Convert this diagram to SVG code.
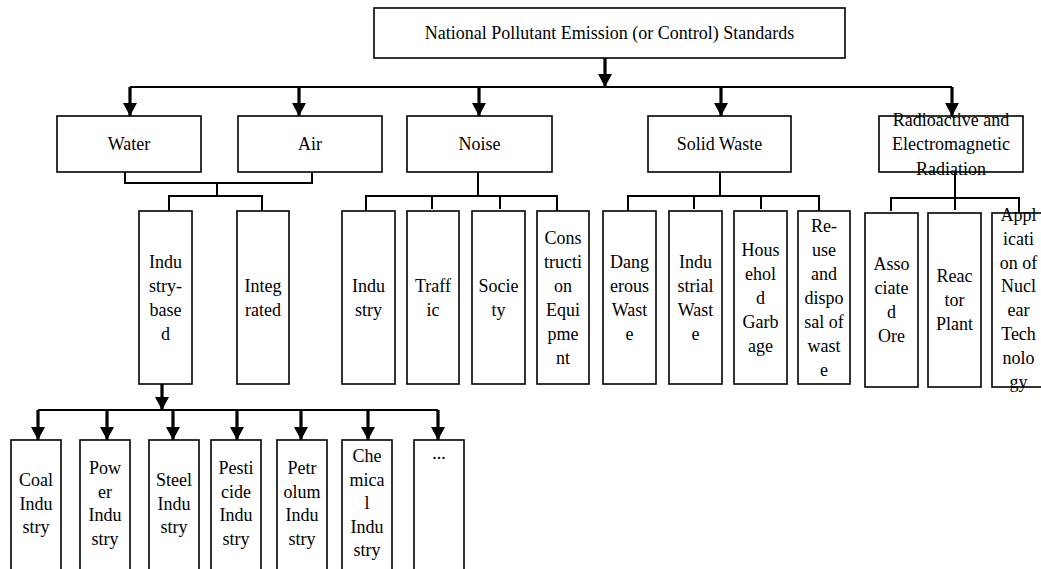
<svg xmlns="http://www.w3.org/2000/svg" width="1041" height="569" viewBox="0 0 1041 569">
<style>
.b{fill:#fff;stroke:#000;stroke-width:1.6}
.t{font-family:"Liberation Serif","Times New Roman",serif;font-size:18px;fill:#000;text-anchor:middle}
.c{fill:none;stroke:#000;stroke-width:2}
.a{fill:none;stroke:#000;stroke-width:3.2;marker-end:url(#ah)}
</style>
<defs>
<marker id="ah" markerUnits="userSpaceOnUse" markerWidth="14" markerHeight="14" refX="12" refY="6.5" orient="auto" viewBox="0 0 12 13">
<path d="M0,0 L12,6.5 L0,13 z" fill="#000"/>
</marker>
</defs>
<rect width="1041" height="569" fill="#fff"/>
<g id="connectors">
<line class="a" x1="605" y1="58" x2="605" y2="87"/>
<line class="c" x1="130" y1="87" x2="952" y2="87"/>
<line class="a" x1="130" y1="87" x2="130" y2="116"/>
<line class="a" x1="299" y1="87" x2="299" y2="116"/>
<line class="a" x1="479" y1="87" x2="479" y2="116"/>
<line class="a" x1="721" y1="87" x2="721" y2="116"/>
<line class="a" x1="952" y1="87" x2="952" y2="116"/>
<polyline class="c" points="125,172 125,183 312,183 312,172"/>
<line class="c" x1="217" y1="183" x2="217" y2="196"/>
<polyline class="c" points="169,211 169,196 262,196 262,211"/>
<line class="c" x1="478" y1="172" x2="478" y2="196"/>
<polyline class="c" points="366,211 366,196 557,196 557,211"/>
<line class="c" x1="432" y1="196" x2="432" y2="209"/>
<line class="c" x1="500" y1="196" x2="500" y2="209"/>
<line class="c" x1="720" y1="172" x2="720" y2="196"/>
<polyline class="c" points="628,211 628,196 819,196 819,211"/>
<line class="c" x1="694" y1="196" x2="694" y2="209"/>
<line class="c" x1="761" y1="196" x2="761" y2="209"/>
<line class="c" x1="955" y1="160" x2="955" y2="198"/>
<polyline class="c" points="891,211 891,198 1019,198 1019,213"/>
<line class="c" x1="955" y1="198" x2="955" y2="210"/>
<line class="a" x1="162" y1="384" x2="162" y2="410"/>
<line class="c" x1="38" y1="410" x2="438" y2="410"/>
<line class="a" x1="38" y1="410" x2="38" y2="440"/>
<line class="a" x1="107" y1="410" x2="107" y2="440"/>
<line class="a" x1="173" y1="410" x2="173" y2="440"/>
<line class="a" x1="237" y1="410" x2="237" y2="440"/>
<line class="a" x1="301" y1="410" x2="301" y2="440"/>
<line class="a" x1="368" y1="410" x2="368" y2="440"/>
<line class="a" x1="438" y1="410" x2="438" y2="440"/>
</g>
<g id="root"><rect class="b" x="374" y="8" width="471" height="50"/><text class="t" x="609.5" y="39">National Pollutant Emission (or Control) Standards</text></g>
<g id="water"><rect class="b" x="57" y="116" width="144" height="56"/><text class="t" x="129" y="150">Water</text></g>
<g id="air"><rect class="b" x="238" y="116" width="144" height="56"/><text class="t" x="310" y="150">Air</text></g>
<g id="noise"><rect class="b" x="407" y="116" width="145" height="56"/><text class="t" x="479.5" y="150">Noise</text></g>
<g id="solid"><rect class="b" x="648" y="116" width="143" height="56"/><text class="t" x="719.5" y="150">Solid Waste</text></g>
<g id="radio"><rect class="b" x="879" y="116" width="144" height="56"/><text class="t" y="125.5"><tspan x="951">Radioactive and</tspan><tspan x="951" dy="24.5">Electromagnetic</tspan><tspan x="951" dy="24.5">Radiation</tspan></text></g>
<g id="industry-based"><rect class="b" x="139" y="211" width="53" height="173"/><text class="t" y="267.5"><tspan x="165.5">Indu</tspan><tspan x="165.5" dy="24">stry-</tspan><tspan x="165.5" dy="24">base</tspan><tspan x="165.5" dy="24">d</tspan></text></g>
<g id="integrated"><rect class="b" x="237" y="211" width="52" height="173"/><text class="t" y="291.5"><tspan x="263">Integ</tspan><tspan x="263" dy="24">rated</tspan></text></g>
<g id="noise-industry"><rect class="b" x="342" y="211" width="53" height="173"/><text class="t" y="291.5"><tspan x="368.5">Indu</tspan><tspan x="368.5" dy="24">stry</tspan></text></g>
<g id="traffic"><rect class="b" x="407" y="211" width="52" height="173"/><text class="t" y="291.5"><tspan x="433">Traff</tspan><tspan x="433" dy="24">ic</tspan></text></g>
<g id="society"><rect class="b" x="472" y="211" width="53" height="173"/><text class="t" y="291.5"><tspan x="498.5">Socie</tspan><tspan x="498.5" dy="24">ty</tspan></text></g>
<g id="construction"><rect class="b" x="537" y="211" width="52" height="173"/><text class="t" y="243.5"><tspan x="563">Cons</tspan><tspan x="563" dy="24">tructi</tspan><tspan x="563" dy="24">on</tspan><tspan x="563" dy="24">Equi</tspan><tspan x="563" dy="24">pme</tspan><tspan x="563" dy="24">nt</tspan></text></g>
<g id="dangerous"><rect class="b" x="603" y="211" width="53" height="173"/><text class="t" y="267.5"><tspan x="629.5">Dang</tspan><tspan x="629.5" dy="24">erous</tspan><tspan x="629.5" dy="24">Wast</tspan><tspan x="629.5" dy="24">e</tspan></text></g>
<g id="industrial-waste"><rect class="b" x="669" y="211" width="53" height="173"/><text class="t" y="267.5"><tspan x="695.5">Indu</tspan><tspan x="695.5" dy="24">strial</tspan><tspan x="695.5" dy="24">Wast</tspan><tspan x="695.5" dy="24">e</tspan></text></g>
<g id="household"><rect class="b" x="734" y="211" width="53" height="173"/><text class="t" y="255.5"><tspan x="760.5">Hous</tspan><tspan x="760.5" dy="24">ehol</tspan><tspan x="760.5" dy="24">d</tspan><tspan x="760.5" dy="24">Garb</tspan><tspan x="760.5" dy="24">age</tspan></text></g>
<g id="reuse"><rect class="b" x="798" y="211" width="52" height="173"/><text class="t" y="231.5"><tspan x="824">Re-</tspan><tspan x="824" dy="24">use</tspan><tspan x="824" dy="24">and</tspan><tspan x="824" dy="24">dispo</tspan><tspan x="824" dy="24">sal of</tspan><tspan x="824" dy="24">wast</tspan><tspan x="824" dy="24">e</tspan></text></g>
<g id="associated"><rect class="b" x="865" y="213" width="53" height="174"/><text class="t" y="270"><tspan x="891.5">Asso</tspan><tspan x="891.5" dy="24">ciate</tspan><tspan x="891.5" dy="24">d</tspan><tspan x="891.5" dy="24">Ore</tspan></text></g>
<g id="reactor"><rect class="b" x="928" y="213" width="53" height="174"/><text class="t" y="282"><tspan x="954.5">Reac</tspan><tspan x="954.5" dy="24">tor</tspan><tspan x="954.5" dy="24">Plant</tspan></text></g>
<g id="application"><rect class="b" x="992" y="213" width="53" height="174"/><text class="t" y="221"><tspan x="1018.5">Appl</tspan><tspan x="1018.5" dy="23.8">icati</tspan><tspan x="1018.5" dy="23.8">on of</tspan><tspan x="1018.5" dy="23.8">Nucl</tspan><tspan x="1018.5" dy="23.8">ear</tspan><tspan x="1018.5" dy="23.8">Tech</tspan><tspan x="1018.5" dy="23.8">nolo</tspan><tspan x="1018.5" dy="23.8">gy</tspan></text></g>
<g id="coal"><rect class="b" x="11" y="440" width="50" height="136"/><text class="t" y="486"><tspan x="36">Coal</tspan><tspan x="36" dy="23.5">Indu</tspan><tspan x="36" dy="23.5">stry</tspan></text></g>
<g id="power"><rect class="b" x="80" y="440" width="50" height="136"/><text class="t" y="474"><tspan x="105">Pow</tspan><tspan x="105" dy="23.5">er</tspan><tspan x="105" dy="23.5">Indu</tspan><tspan x="105" dy="23.5">stry</tspan></text></g>
<g id="steel"><rect class="b" x="149" y="440" width="50" height="136"/><text class="t" y="486"><tspan x="174">Steel</tspan><tspan x="174" dy="23.5">Indu</tspan><tspan x="174" dy="23.5">stry</tspan></text></g>
<g id="pesticide"><rect class="b" x="211" y="440" width="50" height="136"/><text class="t" y="474"><tspan x="236">Pesti</tspan><tspan x="236" dy="23.5">cide</tspan><tspan x="236" dy="23.5">Indu</tspan><tspan x="236" dy="23.5">stry</tspan></text></g>
<g id="petrolum"><rect class="b" x="277" y="440" width="50" height="136"/><text class="t" y="474"><tspan x="302">Petr</tspan><tspan x="302" dy="23.5">olum</tspan><tspan x="302" dy="23.5">Indu</tspan><tspan x="302" dy="23.5">stry</tspan></text></g>
<g id="chemical"><rect class="b" x="342" y="440" width="50" height="136"/><text class="t" y="462"><tspan x="367">Che</tspan><tspan x="367" dy="23.5">mica</tspan><tspan x="367" dy="23.5">l</tspan><tspan x="367" dy="23.5">Indu</tspan><tspan x="367" dy="23.5">stry</tspan></text></g>
<g id="more"><rect class="b" x="414" y="440" width="50" height="136"/><text class="t" x="439" y="459">...</text></g>
</svg>
